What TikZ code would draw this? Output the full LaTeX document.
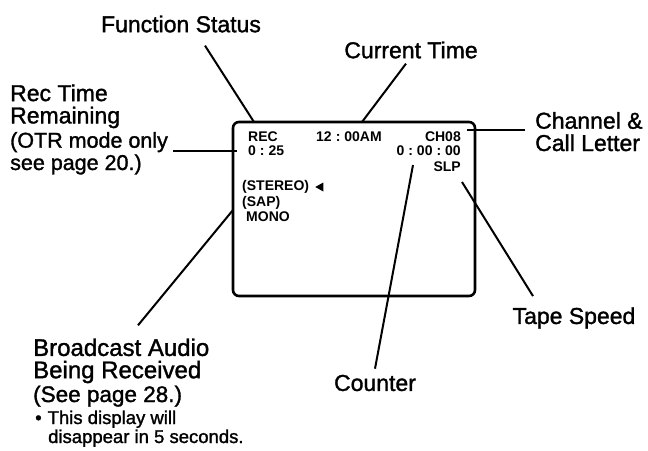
\documentclass[tikz,border=0pt]{standalone}
\usepackage{fontspec}
\setmainfont{Liberation Sans}
\newfontfamily\scanfont{Liberation Sans}[FakeBold=1.4]
\usetikzlibrary{positioning, calc}
\newcommand{\tcol}{\kern4pt:\kern4pt}
\newcommand{\paren}[1]{{\fontsize{21.5}{22}\selectfont #1}}

\begin{document}
\begin{tikzpicture}[x=1pt, y=-1pt,
    lbl/.style={font=\scanfont\fontsize{23}{22.3}\selectfont, align=left, inner sep=0pt},
    big/.style={lbl, font=\scanfont\fontsize{24}{22.3}\selectfont},
    note/.style={font=\scanfont\fontsize{18.5}{19}\selectfont, align=left, inner sep=0pt},
    osd/.style={font=\fontsize{14}{15}\selectfont\bfseries, inner sep=0pt},
    lead/.style={line width=2pt},
    screen/.style={line width=2.6pt, rounded corners=6pt}]
    \useasboundingbox (0,0) rectangle (648,450);
    % the screen
    \draw[screen] (233,122) rectangle (475,296);
    \node[osd, anchor=west] (rec) at (248,137) {REC};
    \node[osd, anchor=west] (remain) at (248,151) {0\tcol25};
    \node[osd, anchor=west] (clock) at (316,137) {12\tcol00AM};
    \node[osd, anchor=east] (chan) at (461,137) {CH08};
    \node[osd, anchor=east] (count) at (461,151) {0\tcol00\tcol00};
    \node[osd, anchor=east] (speed) at (461,167) {SLP};
    \node[osd, anchor=west] (stereo) at (242,187) {(STEREO)};
    \node[osd, anchor=west] (sap) at (242,203) {(SAP)};
    \node[osd, anchor=west] (mono) at (246,217) {MONO};
    \fill ($(stereo.east)+(6,0)$) -- ++(8,-4.5) -- ++(0,9) -- cycle;
    % labels (base west = baseline of the last line)
    \node[lbl] (lblfunc) at (181,24) {Function Status};
    \node[lbl] (lbltime) at (411,50) {Current Time};
    \node[lbl, anchor=base west] (lblchan) at (535,151) {Channel \&\\Call Letter};
    \node[lbl, anchor=base west] (lblrec) at (10,170) {Rec Time\\Remaining\\[2pt]\paren{(OTR mode only}\\\paren{see page 20.)}};
    \node[big, anchor=base west] (lblaudio) at (33,402) {Broadcast Audio\\Being Received\\[1.5pt]{\fontsize{22.5}{22}\selectfont (See page 28.)}};
    \node[note, anchor=base west] (lblnote) at (35,443) {•\kern6pt This display will\\\hspace*{13pt}disappear in 5 seconds.};
    \node[lbl] (lblcount) at (375,383) {Counter};
    \node[lbl] (lbltape) at (574,318) {Tape Speed};
    % where the leads meet the screen
    \coordinate (pfunc) at (254,122);
    \coordinate (ptime) at (362,122);
    \coordinate (pchan) at (467,130);
    \coordinate (prec) at (237,151);
    \coordinate (potr) at (173,151);
    \coordinate (paudio) at (233,210);
    \coordinate (pcount) at (413,165);
    \coordinate (ptape) at (462,182);
    % leads
    \draw[lead] ([xshift=24pt, yshift=-13pt]lblfunc.south) -- (pfunc);
    \draw[lead] ([xshift=-5pt, yshift=-5pt]lbltime.south) -- (ptime);
    \draw[lead] ([xshift=-10pt, yshift=21pt]lblchan.base west) -- (pchan);
    \draw[lead] (potr) -- (prec);
    \draw[lead] ([xshift=105pt, yshift=13pt]lblaudio.north west) -- (paudio);
    \draw[lead] ([yshift=6pt]lblcount.north) -- (pcount);
    \draw[lead] ([xshift=-41pt, yshift=11pt]lbltape.north) -- (ptape);
\end{tikzpicture}
\end{document}
